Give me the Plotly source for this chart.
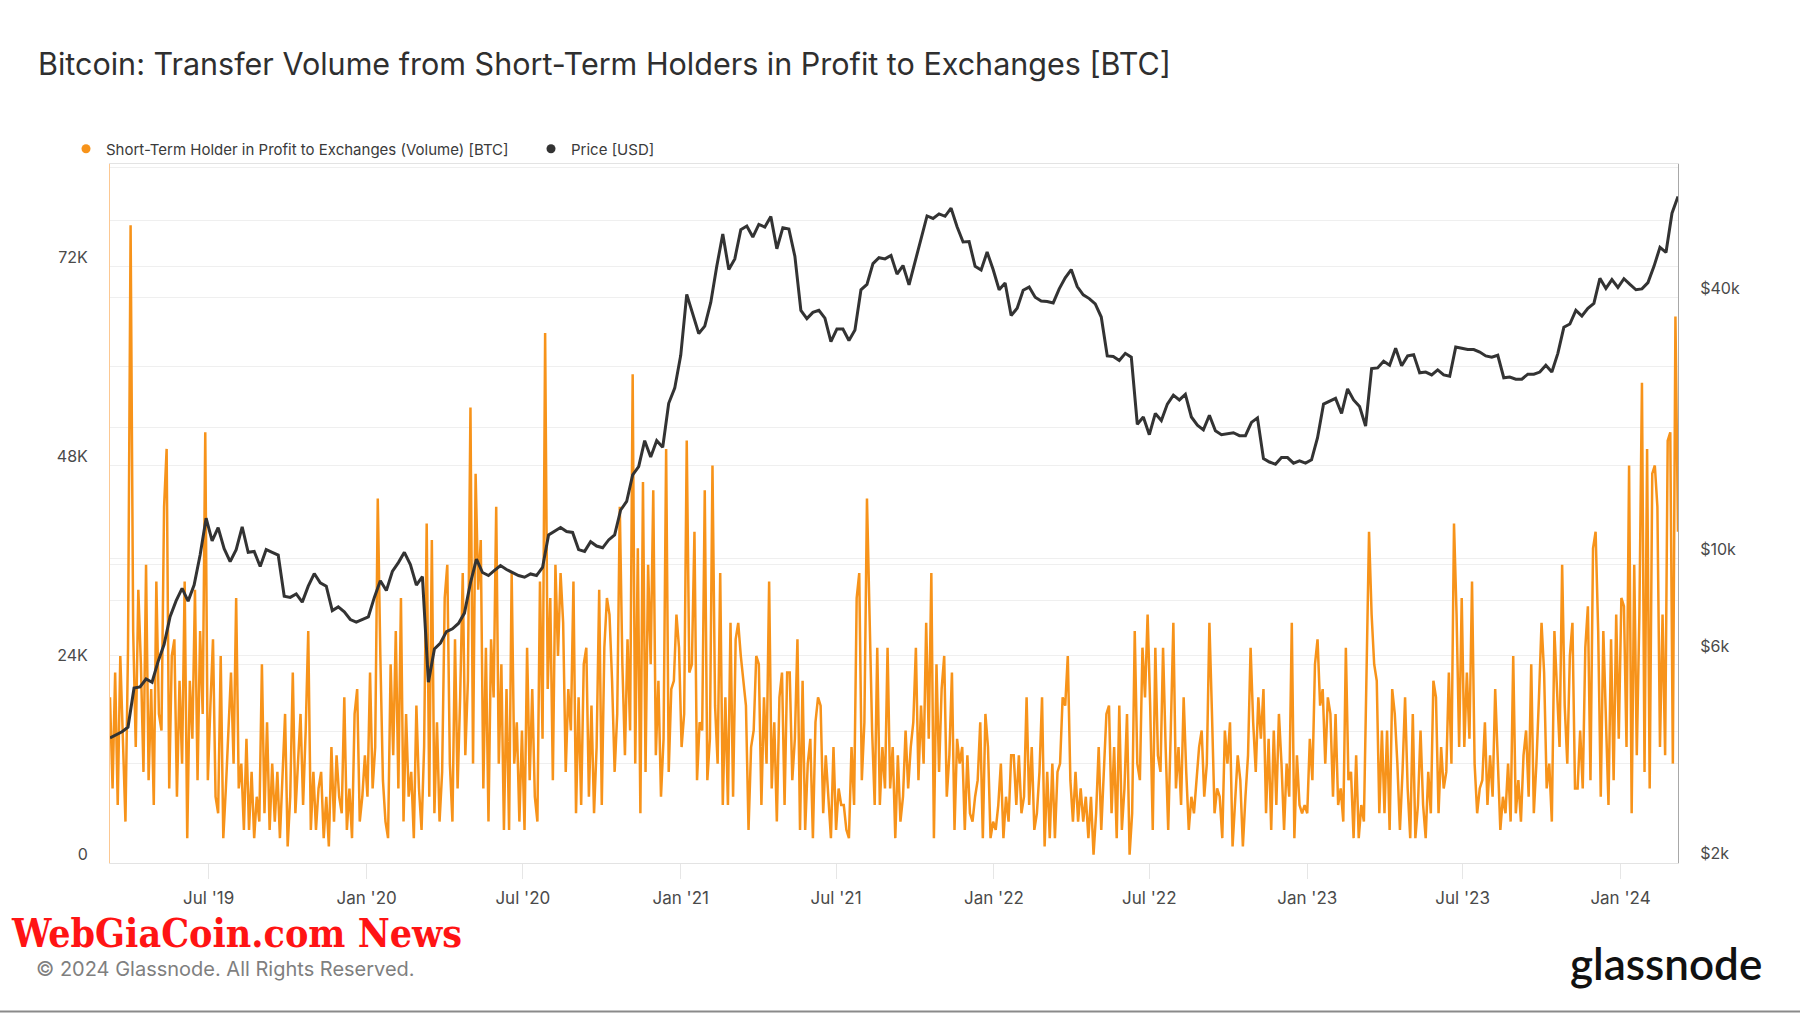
import plotly.graph_objects as go
import pandas as pd

TITLE = "Bitcoin: Transfer Volume from Short-Term Holders in Profit to Exchanges [BTC]"
SERIES_VOLUME = "Short-Term Holder in Profit to Exchanges (Volume) [BTC]"
SERIES_PRICE = "Price [USD]"
FOOTER = "© 2024 Glassnode. All Rights Reserved."
WATERMARK = "WebGiaCoin.com News"
LOGO = "glassnode"

# Short-term holder in-profit volume to exchanges, thousand BTC, one value every 3 days
VOLUME_START = "2019-03-08"
VOLUME_STEP = "3D"
STH_VOLUME_K = [
    20, 9, 23, 7, 25, 16, 5, 26, 77, 28,
    14, 33, 24, 11, 36, 10, 21, 7, 34, 18,
    16, 43, 50, 9, 25, 27, 8, 22, 12, 34,
    3, 22, 15, 33, 10, 28, 18, 52, 10, 19,
    27, 8, 6, 25, 3, 9, 16, 23, 12, 32,
    9, 12, 4, 15, 4, 11, 3, 8, 5, 24,
    6, 17, 4, 12, 5, 11, 3, 10, 18, 2,
    8, 23, 6, 12, 18, 7, 16, 28, 4, 11,
    4, 9, 11, 3, 8, 2, 14, 5, 13, 8,
    6, 20, 4, 9, 3, 18, 21, 5, 8, 13,
    8, 23, 9, 14, 44, 25, 10, 5, 3, 24,
    13, 28, 9, 32, 5, 18, 8, 11, 3, 19,
    9, 4, 14, 41, 8, 39, 6, 17, 5, 11,
    32, 36, 12, 5, 27, 9, 20, 35, 13, 22,
    55, 12, 47, 33, 39, 9, 26, 5, 27, 20,
    43, 12, 24, 4, 21, 4, 35, 12, 17, 5,
    16, 4, 26, 10, 21, 8, 5, 34, 15, 64,
    21, 32, 10, 36, 25, 35, 29, 11, 21, 16,
    34, 6, 20, 7, 24, 26, 8, 19, 6, 14,
    33, 7, 26, 32, 30, 22, 11, 18, 43, 24,
    13, 27, 16, 59, 12, 38, 6, 46, 11, 36,
    24, 45, 13, 22, 8, 15, 50, 11, 21, 22,
    30, 26, 14, 18, 51, 23, 24, 40, 10, 17,
    16, 45, 10, 15, 48, 19, 12, 35, 7, 20,
    7, 29, 8, 27, 29, 25, 22, 19, 4, 14,
    16, 25, 24, 7, 20, 12, 34, 9, 17, 5,
    20, 23, 7, 23, 23, 10, 15, 27, 4, 22,
    4, 12, 15, 3, 17, 20, 19, 6, 13, 8,
    3, 14, 4, 9, 7, 7, 4, 3, 14, 7,
    32, 35, 10, 17, 44, 30, 16, 7, 26, 7,
    14, 9, 26, 9, 14, 3, 13, 5, 8, 16,
    9, 14, 17, 26, 10, 19, 12, 29, 15, 35,
    3, 24, 11, 21, 25, 8, 13, 23, 4, 15,
    12, 14, 4, 13, 6, 5, 8, 10, 17, 3,
    18, 14, 3, 5, 4, 7, 12, 3, 8, 5,
    13, 13, 7, 13, 6, 8, 20, 7, 14, 4,
    6, 11, 20, 2, 11, 3, 12, 3, 11, 12,
    20, 19, 25, 10, 5, 11, 5, 9, 5, 8,
    3, 8, 1, 6, 14, 4, 11, 18, 19, 6,
    14, 3, 19, 4, 9, 18, 1, 6, 28, 12,
    10, 26, 20, 30, 19, 4, 26, 13, 11, 26,
    14, 4, 16, 29, 9, 14, 7, 20, 11, 4,
    8, 6, 10, 14, 16, 8, 12, 29, 18, 6,
    9, 8, 3, 16, 12, 17, 2, 8, 13, 10,
    2, 8, 13, 26, 17, 11, 20, 15, 21, 6,
    15, 4, 16, 7, 18, 12, 4, 12, 8, 29,
    3, 13, 7, 6, 7, 6, 15, 10, 24, 27,
    19, 21, 12, 20, 18, 8, 18, 7, 9, 5,
    26, 10, 11, 3, 13, 3, 7, 5, 22, 40,
    30, 24, 22, 6, 16, 6, 16, 4, 21, 18,
    12, 4, 11, 20, 9, 3, 18, 3, 7, 16,
    7, 3, 11, 6, 22, 20, 6, 14, 9, 11,
    23, 12, 41, 30, 14, 32, 14, 23, 15, 34,
    12, 6, 9, 10, 17, 7, 13, 8, 21, 12,
    4, 8, 6, 12, 5, 25, 6, 10, 5, 13,
    16, 8, 24, 6, 12, 20, 29, 23, 9, 12,
    5, 28, 20, 14, 36, 19, 12, 25, 29, 9,
    9, 16, 9, 26, 31, 10, 38, 40, 28, 8,
    28, 17, 7, 27, 10, 30, 15, 32, 31, 14,
    48, 6, 36, 13, 30, 58, 11, 50, 9, 47,
    48, 43, 14, 30, 13, 51, 52, 12, 66, 40,
]

# BTC price, USD, weekly (Fridays) starting 2019-03-08
PRICE_START = "2019-03-08"
PRICE_STEP = "7D"
PRICE_USD = [
    # 2019
    3870, 3930, 4000, 4100, 5040, 5070, 5290, 5200, 5800, 6350, 7360, 8000, 8550,
    7990, 8700, 10200, 12400, 11000, 11800, 10550, 9850, 10500, 11850, 10350, 10400,
    9600, 10500, 10350, 10200, 8200, 8150, 8300, 7950, 8650, 9250, 8800, 8650, 7600,
    7750, 7550, 7250, 7150, 7250,
    # 2020
    7350, 8150, 8900, 8450, 9350, 9800, 10350, 9700, 8700, 9100, 5200, 6200, 6400,
    6800, 6900, 7100, 7500, 8800, 9980, 9300, 9150, 9400, 9650, 9450, 9300, 9150,
    9070, 9230, 9150, 9550, 11350, 11600, 11800, 11550, 11500, 10500, 10400, 10950,
    10700, 10600, 11050, 11350, 12950, 13550, 15600, 16300, 18700, 17150, 18700,
    18050, 22800, 24700,
    # 2021
    29400, 40600, 36800, 33000, 34300, 38900, 47100, 55900, 46300, 49000, 57200,
    58300, 55000, 58800, 58000, 61300, 51700, 57800, 57400, 49700, 37300, 35700,
    36900, 37300, 35800, 31600, 33800, 33800, 31800, 33600, 41600, 42800, 47800,
    49300, 49000, 49900, 45200, 47300, 42700, 48200, 53900, 61500, 60700, 62200,
    61400, 64100, 58100, 53600, 53700, 47100, 46200, 50800, 46300,
    # 2022
    41600, 43100, 36300, 37700, 41500, 42200, 40000, 39200, 39100, 38800, 41800,
    44300, 46300, 42300, 40500, 39700, 38600, 36000, 29300, 29200, 28600, 29700,
    29100, 20400, 21200, 19300, 21600, 20800, 22700, 23800, 23200, 23900, 21200,
    20300, 19800, 21400, 19700, 19300, 19400, 19500, 19200, 19200, 20600, 21100,
    17000, 16700, 16500, 17100, 17100, 16600, 16800, 16600,
    # 2023
    16900, 19000, 22700, 23100, 23400, 21600, 24600, 23200, 22400, 20200, 27400,
    27500, 28500, 27900, 30500, 27800, 29300, 29500, 26800, 26900, 26500, 27200,
    26500, 26300, 30700, 30500, 30300, 30300, 29900, 29300, 29100, 29400, 26100,
    26200, 25900, 25900, 26600, 26600, 26900, 27900, 26900, 29700, 34100, 34700,
    37300, 36200, 37700, 38700, 44200, 41900, 43900, 42100,
    # 2024
    44100, 42800, 41600, 41800, 43200, 47100, 52100, 50700, 62400, 68200,
]

X_RANGE = ["2019-03-08", "2024-03-08"]
X_TICKS = ["2019-07-01", "2020-01-01", "2020-07-01", "2021-01-01", "2021-07-01",
           "2022-01-01", "2022-07-01", "2023-01-01", "2023-07-01", "2024-01-01"]
X_TICK_TEXT = ["Jul '19", "Jan '20", "Jul '20", "Jan '21", "Jul '21",
               "Jan '22", "Jul '22", "Jan '23", "Jul '23", "Jan '24"]
VOL_RANGE = [0, 84400]
VOL_TICKS = [0, 12000, 24000, 36000, 48000, 60000, 72000, 84000]
VOL_TICK_TEXT = ["0", "", "24K", "", "48K", "", "72K", ""]
PRICE_RANGE_LOG = [3.300, 4.9085]
PRICE_TICKS = [2000, 4000, 6000, 8000, 10000, 20000, 40000, 60000]
PRICE_TICK_TEXT = ["$2k", "", "$6k", "", "$10k", "", "$40k", ""]

ORANGE = "#f7931a"
DARK = "#333333"
GRID = "#efefef"
FONT = "Inter"

W, H = 1800, 1013
PL, PR, PT, PB = 110, 1678, 164, 863


def px(x):
    return (x - PL) / (PR - PL)


def py(y):
    return (PB - y) / (PB - PT)


vol_dates = pd.date_range(VOLUME_START, periods=len(STH_VOLUME_K), freq=VOLUME_STEP)
volume = [v * 1000 for v in STH_VOLUME_K]
price_dates = pd.date_range(PRICE_START, periods=len(PRICE_USD), freq=PRICE_STEP)

fig = go.Figure()
fig.add_trace(go.Scatter(x=vol_dates, y=volume, mode="lines", name=SERIES_VOLUME,
                         line=dict(color=ORANGE, width=2.5), showlegend=False, yaxis="y"))
fig.add_trace(go.Scatter(x=price_dates, y=PRICE_USD, mode="lines", name=SERIES_PRICE,
                         line=dict(color=DARK, width=3), showlegend=False, yaxis="y2"))
# legend entries shown as dots
fig.add_trace(go.Scatter(x=[None], y=[None], mode="markers", name=SERIES_VOLUME,
                         marker=dict(color=ORANGE, size=9), yaxis="y"))
fig.add_trace(go.Scatter(x=[None], y=[None], mode="markers", name=SERIES_PRICE,
                         marker=dict(color=DARK, size=9), yaxis="y2"))

tickfont = dict(family=FONT, size=16, color="#4a4a4a")

fig.update_layout(
    width=W, height=H,
    margin=dict(l=PL, r=W - PR, t=PT, b=H - PB, pad=0),
    paper_bgcolor="white", plot_bgcolor="white",
    font=dict(family=FONT, color=DARK),
    title=dict(text=TITLE, x=38 / W, xref="container", xanchor="left",
               y=1 - 64 / H, yref="container", yanchor="middle",
               font=dict(family=FONT, size=30.5, color="#2f2f2f")),
    legend=dict(orientation="h", x=px(66), xanchor="left", y=py(149), yanchor="middle",
                font=dict(family=FONT, size=15, color="#3a3a3a"), itemwidth=30,
                entrywidth=420, entrywidthmode="pixels",
                bgcolor="rgba(0,0,0,0)"),
    xaxis=dict(type="date", range=X_RANGE, tickmode="array", tickvals=X_TICKS,
               ticktext=X_TICK_TEXT, ticks="outside", ticklen=15, tickcolor="#e6e6e6",
               showgrid=False, showline=True, linecolor="#e3e3e3", mirror=True,
               zeroline=False, tickfont=dict(family=FONT, size=17, color="#4a4a4a"),
               automargin=False, ticklabelstandoff=5),
    yaxis=dict(range=VOL_RANGE, tickmode="array", tickvals=VOL_TICKS, ticktext=VOL_TICK_TEXT,
               showgrid=True, gridcolor=GRID, zeroline=False, showline=True,
               linecolor="#fcc892", ticks="", tickfont=tickfont, automargin=False,
               ticklabelstandoff=18, ticklabelshift=-9),
    yaxis2=dict(type="log", range=PRICE_RANGE_LOG, overlaying="y", side="right",
                tickmode="array", tickvals=PRICE_TICKS, ticktext=PRICE_TICK_TEXT,
                showgrid=True, gridcolor=GRID, zeroline=False, showline=True,
                linecolor="#a8a8a8", ticks="", tickfont=tickfont, automargin=False,
                ticklabelstandoff=18, ticklabelshift=-9),
    hovermode=False,
)

fig.add_annotation(text=f"<b>{WATERMARK}</b>", xref="paper", yref="paper",
                   x=px(9), xanchor="left", y=py(933), yanchor="middle", showarrow=False,
                   font=dict(family="DejaVu Serif Condensed, DejaVu Serif", size=39, color="#ff1414"))
fig.add_annotation(text=FOOTER, xref="paper", yref="paper",
                   x=px(34), xanchor="left", y=py(969), yanchor="middle", showarrow=False,
                   font=dict(family=FONT, size=20, color="#7f7f7f"))
fig.add_annotation(text=LOGO, xref="paper", yref="paper",
                   x=px(1764), xanchor="right", y=py(963), yanchor="middle", showarrow=False,
                   font=dict(family="Lato", size=44, color="#111111", weight=600))
fig.add_shape(type="line", xref="paper", yref="paper", x0=px(0), x1=px(W),
              y0=py(1011.5), y1=py(1011.5), line=dict(color="#8a8a8a", width=2))

fig.write_html("out.html", config={"displayModeBar": False},
               post_script="document.body.style.margin='0';")
